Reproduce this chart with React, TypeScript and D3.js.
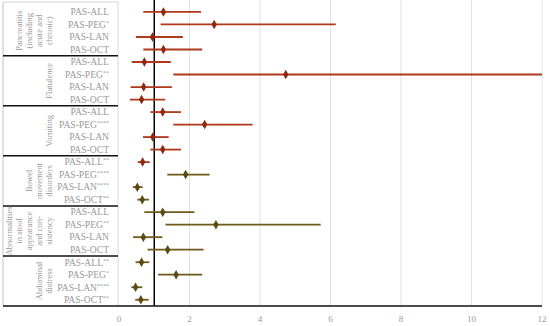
import * as d3 from "d3";

const groups = [
  ["Pancreatitis", "(including", "acute and", "chronic)"],
  ["Flatulence"],
  ["Vomiting"],
  ["Bowel", "movement", "disorders"],
  ["Abnormalities", "in stool", "appearance", "and con-", "sistency"],
  ["Abdominal", "distress"],
];

const rowLabels = [
  "PAS-ALL", "PAS-PEG*", "PAS-LAN", "PAS-OCT",
  "PAS-ALL", "PAS-PEG**", "PAS-LAN", "PAS-OCT",
  "PAS-ALL", "PAS-PEG****", "PAS-LAN", "PAS-OCT",
  "PAS-ALL**", "PAS-PEG****", "PAS-LAN****", "PAS-OCT**",
  "PAS-ALL", "PAS-PEG**", "PAS-LAN", "PAS-OCT",
  "PAS-ALL**", "PAS-PEG*", "PAS-LAN****", "PAS-OCT**",
];

const estimates = [
  1.26, 2.7, 0.95, 1.26,
  0.72, 4.73, 0.7, 0.64,
  1.24, 2.43, 0.96, 1.24,
  0.67, 1.89, 0.52, 0.66,
  1.24, 2.75, 0.69, 1.38,
  0.64, 1.62, 0.47, 0.62,
];
const lower = [
  0.69, 1.18, 0.48, 0.69,
  0.36, 1.54, 0.33, 0.31,
  0.89, 1.54, 0.68, 0.89,
  0.53, 1.37, 0.39, 0.52,
  0.72, 1.32, 0.4, 0.81,
  0.47, 1.11, 0.35, 0.46,
];
const upper = [
  2.33, 6.15, 1.81, 2.36,
  1.47, 12, 1.5, 1.31,
  1.76, 3.79, 1.41, 1.76,
  0.87, 2.57, 0.67, 0.85,
  2.14, 5.72, 1.23, 2.4,
  0.86, 2.36, 0.66, 0.84,
];

const xTicks = [0, 2, 4, 6, 8, 10, 12];

const RED = "#b0391b";
const OLIVE = "#6e5b1c";
const TEXT = "#9a9a9a";
const FONT = "'Liberation Serif', serif";

export default function App() {
  const width = 550;
  const height = 326;
  const x = d3.scaleLinear().domain([0, 12]).range([119, 542]);
  const y = d3
    .scaleBand<number>()
    .domain(d3.range(rowLabels.length))
    .range([5.7, 306]);
  const cy = (i: number) => (y(i) ?? 0) + y.bandwidth() / 2;
  const diamond = d3.symbol().type(d3.symbolDiamond).size(26);

  return (
    <div style={{ position: "absolute", left: 0, top: 0 }}>
      <svg width={width} height={height} style={{ display: "block" }}>
        <rect width={width} height={height} fill="#fff" />
        {/* grid */}
        {xTicks.slice(1).map((t) => (
          <line key={t} x1={x(t)} x2={x(t)} y1={0} y2={306} stroke="#e2e2e2" strokeWidth={1} />
        ))}
        {/* table frame */}
        <line x1={3} x2={118} y1={2} y2={2} stroke="#d4d4d4" />
        <line x1={3} x2={3} y1={2} y2={306} stroke="#c4c4c4" />
        <line x1={118} x2={118} y1={2} y2={306} stroke="#dadada" />
        {groups.slice(1).map((_, gi) => {
          const yy = y((gi + 1) * 4) ?? 0;
          return <line key={gi} x1={3} x2={118} y1={yy} y2={yy} stroke="#111" strokeWidth={1.5} />;
        })}
        {/* group labels */}
        {groups.map((lines, gi) => {
          const yc = ((y(gi * 4) ?? 0) + (y(gi * 4 + 3) ?? 0) + y.bandwidth()) / 2;
          return lines.map((ln, li) => {
            const xx = 52 - (lines.length - 1 - li) * 10;
            return (
              <text
                key={gi + "-" + li}
                transform={`translate(${xx},${yc}) rotate(-90)`}
                textAnchor="middle"
                fontFamily={FONT}
                fontSize={8.6}
                fill={TEXT}
              >
                {ln}
              </text>
            );
          });
        })}
        {/* row labels */}
        {rowLabels.map((lab, i) => {
          const base = lab.replace(/\*+$/, "");
          const stars = lab.slice(base.length);
          return (
            <text
              key={i}
              x={109}
              y={cy(i) + 3.3}
              textAnchor="end"
              fontFamily={FONT}
              fontSize={9.6}
              fill={TEXT}
            >
              {base}
              {stars && (
                <tspan fontSize={6} dy={-3}>
                  {stars}
                </tspan>
              )}
            </text>
          );
        })}
        {/* reference line at 1 */}
        <line x1={x(1)} x2={x(1)} y1={0} y2={306} stroke="#000" strokeWidth={1.5} />
        {/* intervals */}
        {estimates.map((v, i) => {
          const c = i < 13 ? RED : OLIVE;
          return (
            <g key={i}>
              <line
                x1={x(lower[i])}
                x2={x(Math.min(upper[i], 12))}
                y1={cy(i)}
                y2={cy(i)}
                stroke={c}
                strokeWidth={1.8}
              />
              <path
                d={diamond() ?? ""}
                transform={`translate(${x(v)},${cy(i)})`}
                fill={i < 13 ? "#8e2a12" : "#5a4a14"}
              />
            </g>
          );
        })}
        {/* x axis */}
        <line x1={3} x2={542} y1={306} y2={306} stroke="#111" strokeWidth={1.5} />
        {xTicks.map((t) => (
          <text
            key={t}
            x={x(t)}
            y={322}
            textAnchor="middle"
            fontFamily={FONT}
            fontSize={9}
            fill={TEXT}
          >
            {t}
          </text>
        ))}
      </svg>
    </div>
  );
}
